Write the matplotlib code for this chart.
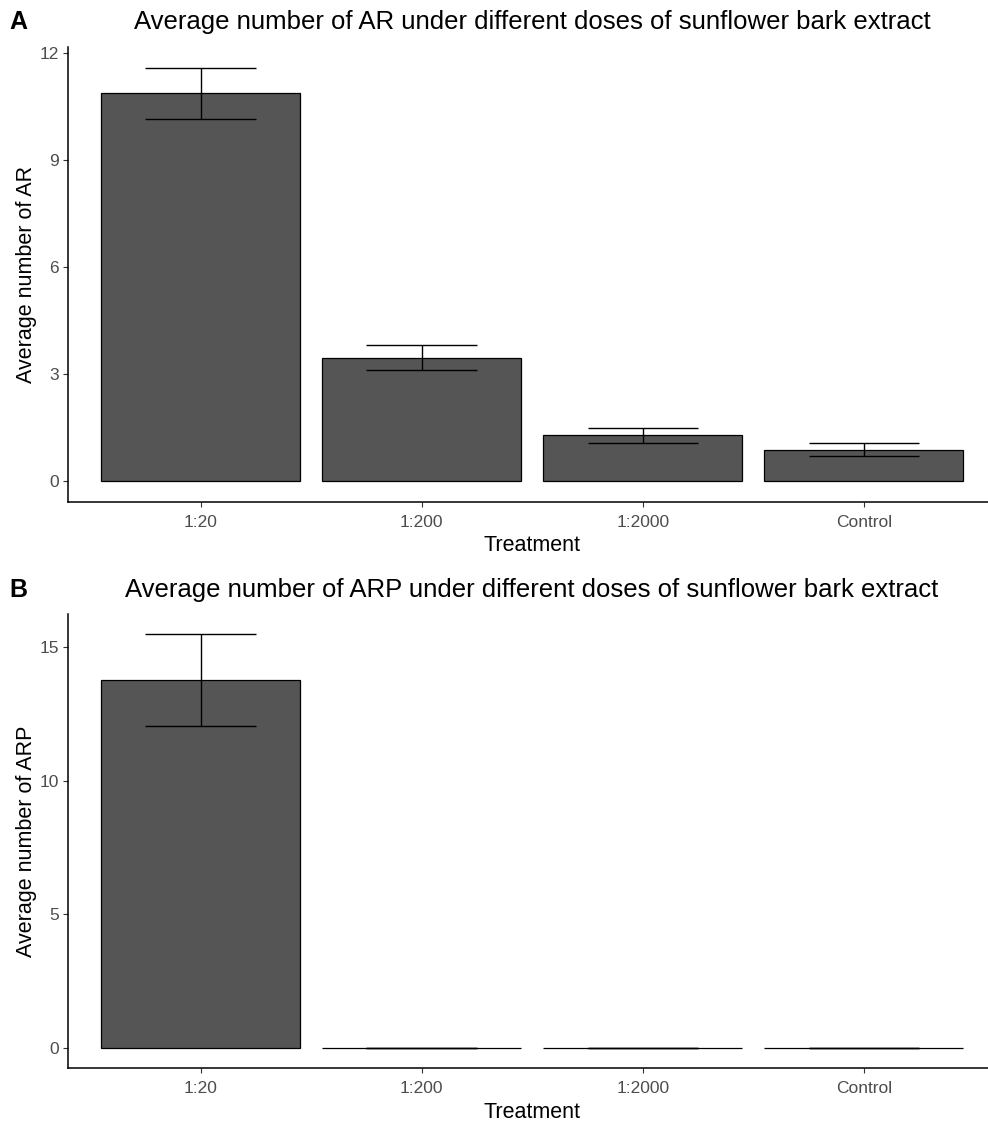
import matplotlib
matplotlib.use("Agg")
import matplotlib.pyplot as plt

plt.rcParams['font.family'] = ['Liberation Sans', 'DejaVu Sans']

treatments = ["1:20", "1:200", "1:2000", "Control"]
ar_mean = [10.87, 3.45, 1.28, 0.88]
ar_se = [0.72, 0.35, 0.205, 0.18]
arp_mean = [13.77, 0.0, 0.0, 0.0]
arp_se = [1.72, 0.0, 0.0, 0.0]
ar_ticks = [0, 3, 6, 9, 12]
arp_ticks = [0, 5, 10, 15]

W, H = 988, 1124
DPI = 100
fig = plt.figure(figsize=(W / DPI, H / DPI), dpi=DPI)
fig.patch.set_facecolor("white")


def px_axes(left, top, right, bottom):
    return fig.add_axes([left / W, 1 - bottom / H, (right - left) / W, (bottom - top) / H])


def panel(ax, means, ses, ticks, title, ylabel, letter, title_y, letter_y):
    x = list(range(len(treatments)))
    ax.bar(x, means, width=0.9, color="#555555", edgecolor="black", linewidth=0.9, zorder=2)
    lo = [m - s for m, s in zip(means, ses)]
    hi = [m + s for m, s in zip(means, ses)]
    ax.vlines(x, lo, hi, color="black", linewidth=1.0, zorder=3)
    ax.hlines(lo, [i - 0.25 for i in x], [i + 0.25 for i in x], color="black", linewidth=1.0, zorder=3)
    ax.hlines(hi, [i - 0.25 for i in x], [i + 0.25 for i in x], color="black", linewidth=1.0, zorder=3)
    ymax = max(hi)
    ax.set_ylim(-0.05 * ymax, 1.05 * ymax)
    ax.set_xlim(-0.6, len(treatments) - 0.4)
    ax.set_xticks(x)
    ax.set_xticklabels(treatments)
    ax.set_yticks(ticks)
    ax.set_yticklabels([str(t) for t in ticks])
    for s in ["top", "right"]:
        ax.spines[s].set_visible(False)
    for s in ["left", "bottom"]:
        ax.spines[s].set_linewidth(1.1)
        ax.spines[s].set_color("black")
    ax.tick_params(axis="both", length=3.5, width=0.8, color="#333333", labelcolor="#4D4D4D",
                   labelsize=12.5)
    ax.tick_params(axis="x", pad=6)
    ax.tick_params(axis="y", pad=3)
    ax.set_xlabel("Treatment", fontsize=15.5, color="black", labelpad=4)
    ax.set_ylabel(ylabel, fontsize=15.5, color="black", labelpad=2)
    ax.set_facecolor("white")
    fig.text(532 / W, 1 - title_y / H, title, ha="center", va="center", fontsize=18.5, color="black")
    fig.text(9 / W, 1 - letter_y / H, letter, ha="left", va="center", fontsize=18,
             fontweight="bold", color="black")


axA = px_axes(68, 46.9, 996.6, 501.7)
panel(axA, ar_mean, ar_se, ar_ticks,
      "Average number of AR under different doses of sunflower bark extract",
      "Average number of AR", "A", 22, 22)

axB = px_axes(68, 613.5, 996.6, 1068.3)
panel(axB, arp_mean, arp_se, arp_ticks,
      "Average number of ARP under different doses of sunflower bark extract",
      "Average number of ARP", "B", 590, 590)

fig.savefig("out.png", dpi=DPI)
